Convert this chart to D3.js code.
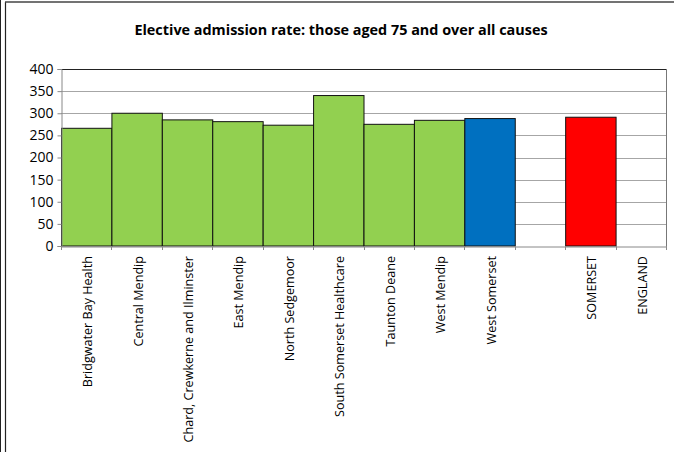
<!DOCTYPE html>
<html>
<head>
<meta charset="utf-8">
<script src="https://cdn.jsdelivr.net/npm/d3@7"></script>
<style>
  body { margin: 0; background: #fff; }
  text { font-family: "Open Sans", "Liberation Sans", sans-serif; }
</style>
</head>
<body>
<script>
// chart data
const categories = ["Bridgwater Bay Health", "Central Mendip", "Chard, Crewkerne and Ilminster",
    "East Mendip", "North Sedgemoor", "South Somerset Healthcare", "Taunton Deane",
    "West Mendip", "West Somerset", "", "SOMERSET", "ENGLAND"];
const values = [266, 300, 285, 281, 273, 340, 275, 284, 288, null, 291, null];
const barColors = ["#92d050", "#92d050", "#92d050", "#92d050", "#92d050", "#92d050",
    "#92d050", "#92d050", "#0070c0", null, "#ff0000", null];
const yTicks = [0, 50, 100, 150, 200, 250, 300, 350, 400];

const width = 674, height = 452;
const margin = {left: 61, right: 8, top: 69, bottom: 206};

let svg = d3.select("body").append("svg")
    .attr("width", width)
    .attr("height", height);

// outer frame
svg.append("line").attr("x1", 0.5).attr("x2", 0.5).attr("y1", 0).attr("y2", height)
    .attr("stroke", "#222").attr("stroke-width", 1);
svg.append("line").attr("x1", 5.5).attr("x2", 5.5).attr("y1", 2).attr("y2", height)
    .attr("stroke", "#222").attr("stroke-width", 1.2);
svg.append("line").attr("x1", 5).attr("x2", width).attr("y1", 2).attr("y2", 2)
    .attr("stroke", "#444").attr("stroke-width", 1.5);

let x = d3.scaleBand()
    .domain(d3.range(categories.length))
    .range([margin.left, width - margin.right])
    .padding(0);

let y = d3.scaleLinear()
    .domain([0, 400])
    .range([height - margin.bottom, margin.top]);

// gridlines
svg.append("g")
    .selectAll("line")
    .data(yTicks.filter(d => d > 0))
    .enter().append("line")
    .attr("x1", margin.left)
    .attr("x2", width - margin.right)
    .attr("y1", d => Math.round(y(d)) + 0.5)
    .attr("y2", d => Math.round(y(d)) + 0.5)
    .attr("stroke", d => d === 400 ? "#222" : "#a6a6a6")
    .attr("stroke-width", 1);

// right border of plot
svg.append("line")
    .attr("x1", width - margin.right + 0.5).attr("x2", width - margin.right + 0.5)
    .attr("y1", margin.top).attr("y2", y(0))
    .attr("stroke", "#777");

// bars
svg.append("g")
    .selectAll("rect")
    .data(values.map((v, i) => ({v: v, i: i})).filter(d => d.v !== null))
    .enter().append("rect")
    .attr("x", d => x(d.i) + 0.5)
    .attr("width", x.bandwidth())
    .attr("y", d => y(d.v))
    .attr("height", d => y(0) - y(d.v))
    .attr("fill", d => barColors[d.i])
    .attr("stroke", "#111")
    .attr("stroke-width", 1);

// y axis
let yAxis = svg.append("g")
    .attr("transform", `translate(${margin.left + 0.5},0)`)
    .call(d3.axisLeft(y).tickValues(yTicks).tickSize(4).tickPadding(4));
yAxis.select(".domain").attr("stroke", "#888");
yAxis.selectAll(".tick line").attr("stroke", "#888");
yAxis.selectAll(".tick text").attr("font-size", 14).attr("fill", "#000")
    .attr("font-family", "Open Sans");

// x axis
let xAxis = svg.append("g")
    .attr("transform", `translate(0,${Math.round(y(0)) + 0.5})`)
    .call(d3.axisBottom(x).tickFormat("").tickSize(0));
xAxis.select(".domain").attr("stroke", "#888");

// boundary ticks
svg.append("g")
    .selectAll("line")
    .data(d3.range(categories.length + 1))
    .enter().append("line")
    .attr("x1", d => Math.round(margin.left + d * x.step()) + 0.5)
    .attr("x2", d => Math.round(margin.left + d * x.step()) + 0.5)
    .attr("y1", y(0))
    .attr("y2", y(0) + 4)
    .attr("stroke", "#888");

// category labels
svg.append("g")
    .selectAll("text")
    .data(categories)
    .enter().append("text")
    .attr("transform", (d, i) => `translate(${x(i) + x.bandwidth() / 2 + 6},${y(0) + 10}) rotate(-90)`)
    .attr("text-anchor", "end")
    .attr("font-size", 12.6)
    .attr("fill", "#000")
    .text(d => d);

// title
svg.append("text")
    .attr("x", 341)
    .attr("y", 35)
    .attr("text-anchor", "middle")
    .attr("font-size", 14.4)
    .attr("font-weight", "bold")
    .text("Elective admission rate: those aged 75 and over all causes");
</script>
</body>
</html>
